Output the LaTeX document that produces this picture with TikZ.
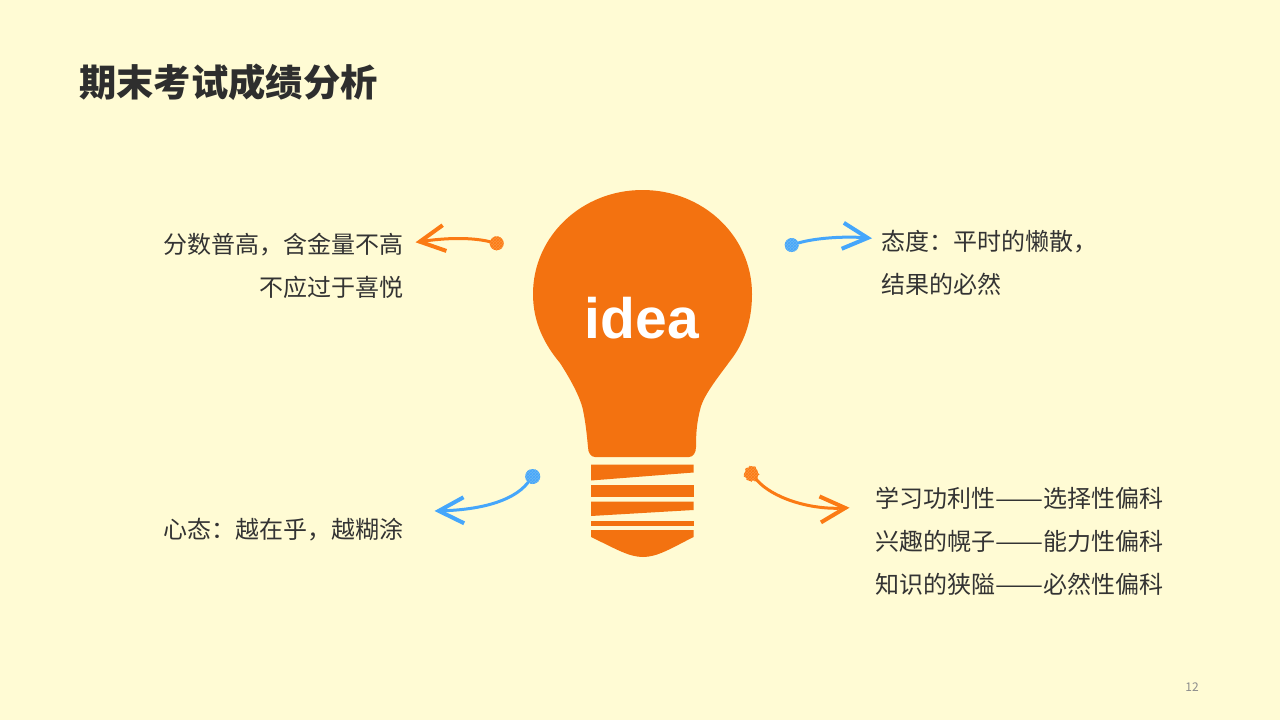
\documentclass[tikz,border=0pt]{standalone}
\usepackage{fontspec}
\setmainfont{Noto Sans CJK SC}
\newfontfamily\latinbold{Liberation Sans}
\newcommand{\longdash}{\makebox[48pt]{\resizebox{48pt}{\height}{——}}}
\usepackage{xcolor}
\usetikzlibrary{arrows.meta,patterns,decorations.pathmorphing}
\definecolor{paper}{HTML}{FFFBD4}
\definecolor{bulb}{HTML}{F37210}
\definecolor{penorange}{HTML}{FB7A14}
\definecolor{penblue}{HTML}{45A6FB}
\definecolor{ink}{HTML}{333333}
\begin{document}
\begin{tikzpicture}[x=1pt,y=-1pt,>={Straight Barb[length=25pt,width=26pt,line width=4pt]},line cap=round]
\tikzstyle{point}=[circle,inner sep=0pt,minimum size=14pt]
\tikzstyle{orangepoint}=[point,preaction={fill=penorange!80!paper},pattern=crosshatch,pattern color=penorange]
\tikzstyle{bluepoint}=[point,preaction={fill=penblue!80!paper},pattern=crosshatch,pattern color=penblue]
\tikzstyle{note}=[inner sep=0pt,text=ink,font=\fontsize{24}{43}\selectfont]
\tikzstyle{pen}=[->,line width=3pt]
\fill[paper] (0,0) rectangle (1280,720);
\useasboundingbox (0,0) rectangle (1280,720);
\node[anchor=west,inner sep=0pt,text=ink!90!black,font=\fontsize{37.3}{40}\selectfont\bfseries] (title) at (79,82) {期末考试成绩分析};
\fill[bulb] (642.5,190) .. controls (582,190) and (533,236) .. (533,294)
  .. controls (533,323) and (545,345) .. (560,363)
  .. controls (569,377) and (580,396) .. (583,410)
  .. controls (586,425) and (587,437) .. (588,447)
  .. controls (588,453) and (591,457) .. (595,457)
  -- (689,457) .. controls (693,457) and (696,453) .. (696,447)
  .. controls (696,432) and (697,422) .. (700,410)
  .. controls (703,396) and (716,380) .. (733,357)
  .. controls (745,340) and (752,320) .. (752,294)
  .. controls (752,236) and (703,190) .. (642.5,190) -- cycle;
\fill[bulb] (591,464.5) -- (693.5,464.5) -- (693.5,472.5) -- (591,480.5) -- cycle;
\fill[bulb] (591,484.5) -- (693.5,484.5) -- (693.5,496.5) -- (591,496.5) -- cycle;
\fill[bulb] (591,501.5) -- (693.5,501.5) -- (693.5,510) -- (591,516) -- cycle;
\fill[bulb] (591,520.5) -- (693.5,520.5) -- (693.5,526) -- (591,526) -- cycle;
\fill[bulb] (591,530) -- (693.5,530) -- (693.5,537) .. controls (670,549) and (657,557) .. (643,557)
  .. controls (629,557) and (616,549) .. (591,537) -- cycle;
\node[text=white,inner sep=0pt,font=\fontsize{57}{60}\latinbold\bfseries] (idea) at (642,318) {idea};
\node[note,anchor=east,align=right] (scoreText) at (404,265.5) {分数普高，含金量不高\\不应过于喜悦};
\node[note,anchor=west,align=left] (attitudeText) at (881,262.5) {态度：平时的懒散，\\结果的必然};
\node[note,anchor=east,align=right] (mindText) at (404,530) {心态：越在乎，越糊涂};
\node[note,anchor=west,align=left] (subjectText) at (875,541) {学习功利性\longdash 选择性偏科\\兴趣的幌子\longdash 能力性偏科\\知识的狭隘\longdash 必然性偏科};
\node[font=\fontsize{12}{14}\selectfont,text=black!45,inner sep=0pt] (page) at (1192,687) {12};
\node[orangepoint] (scoreDot) at (496.7,243.3) {};
\node[bluepoint] (attitudeDot) at (791.7,245) {};
\node[bluepoint,minimum size=15pt] (mindDot) at (532.7,476.5) {};
\node[orangepoint,decorate,decoration={random steps,segment length=2pt,amplitude=1.2pt}] (subjectDot) at (751.7,474) {};
\coordinate (scoreTip) at (415.5,242.3);
\coordinate (attitudeTip) at (872,238.3);
\coordinate (mindTip) at (434.5,511);
\coordinate (subjectTip) at (849.5,507.7);
\draw[pen,penorange] (scoreDot) .. controls (470,237) and (445,238) .. (scoreTip);
\draw[pen,penblue] (attitudeDot) .. controls (815,238) and (845,236) .. (attitudeTip);
\draw[pen,penblue] (mindDot) .. controls (512,503) and (475,510) .. (mindTip);
\draw[pen,penorange] (subjectDot) .. controls (772,498) and (810,510) .. (subjectTip);
\end{tikzpicture}
\end{document}
